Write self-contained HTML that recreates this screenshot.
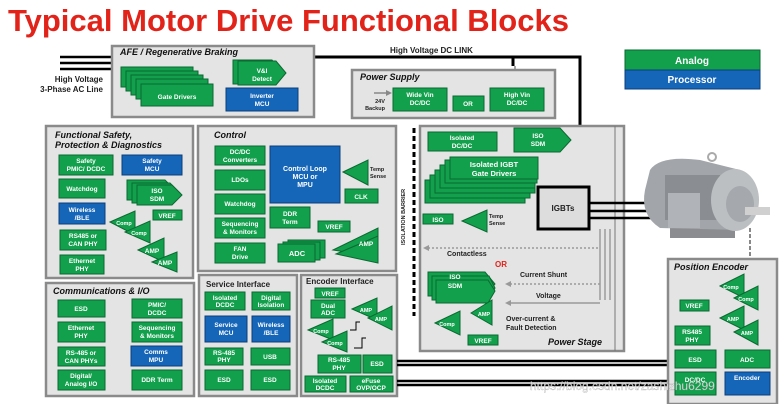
<!DOCTYPE html>
<html><head><meta charset="utf-8"><style>
html,body{margin:0;padding:0;background:#fff;}
svg{display:block;font-family:"Liberation Sans",sans-serif;}
.g{fill:#12a04c;stroke:#0a6a30;stroke-width:1}
.b{fill:#1565b8;stroke:#0b3f7a;stroke-width:1}
.box{fill:#e4e4e4;stroke:#8a8a8a;stroke-width:2.5}
.t{fill:#fff;font-weight:bold;font-size:6.5px;text-anchor:middle}
.h{font-weight:bold;font-style:italic;font-size:9px;fill:#111}
.k{font-weight:bold;font-size:7.5px;fill:#222}
</style></head><body>
<svg width="779" height="404" viewBox="0 0 779 404" xmlns="http://www.w3.org/2000/svg">
<rect width="779" height="404" fill="#fff"/>
<text x="8" y="31" fill="#e2231a" font-size="31" font-weight="bold">Typical Motor Drive Functional Blocks</text>

<!-- legend -->
<rect x="625" y="50" width="135" height="20" class="g"/>
<text x="692" y="64" class="t" style="font-size:10px">Analog</text>
<rect x="625" y="70" width="135" height="19" class="b"/>
<text x="692" y="83" class="t" style="font-size:10px">Processor</text>

<!-- HV lines -->
<g stroke="#000" stroke-width="2.5">
<line x1="60" y1="57" x2="112" y2="57"/><line x1="60" y1="63" x2="112" y2="63"/><line x1="60" y1="69" x2="112" y2="69"/>
</g>
<text x="103" y="82" class="k" style="font-size:8px;text-anchor:end">High Voltage</text>
<text x="103" y="92" class="k" style="font-size:8px;text-anchor:end">3-Phase AC Line</text>
<!-- DC link -->
<polyline points="314,57 580,57 580,188" fill="none" stroke="#000" stroke-width="3"/>
<line x1="513" y1="57" x2="513" y2="66" stroke="#000" stroke-width="3"/>
<line x1="515" y1="66" x2="515" y2="80" stroke="#888" stroke-width="1.5"/>
<polygon points="512,78 518,78 515,84" fill="#888"/>
<text x="390" y="53" class="k" style="font-size:8px">High Voltage DC LINK</text>

<!-- AFE -->
<rect x="112" y="46" width="202" height="71" class="box"/>
<text x="120" y="55" class="h">AFE / Regenerative Braking</text>
<rect x="121" y="67" width="72" height="20" class="g"/>
<rect x="126" y="71" width="72" height="20" class="g"/>
<rect x="131" y="75" width="72" height="20" class="g"/>
<rect x="136" y="79" width="72" height="20" class="g"/>
<rect x="141" y="84" width="72" height="22" class="g"/>
<text x="177" y="99" class="t">Gate Drivers</text>
<polygon points="233,60 272,60 282,72 272,84 233,84" class="g"/>
<polygon points="238,61 276,61 286,73 276,85 238,85" class="g"/>
<text x="262" y="73" class="t">V&amp;I</text><text x="262" y="81" class="t">Detect</text>
<rect x="226" y="88" width="72" height="23" class="b"/>
<text x="262" y="98" class="t">Inverter</text><text x="262" y="106" class="t">MCU</text>

<!-- Power supply -->
<rect x="352" y="70" width="203" height="48" class="box"/>
<text x="360" y="80" class="h">Power Supply</text>
<line x1="374" y1="93" x2="386" y2="93" stroke="#888" stroke-width="1.5"/><polygon points="386,90 392,93 386,96" fill="#888"/>
<text x="380" y="103" class="k" style="font-size:5.5px;text-anchor:middle">24V</text>
<text x="375" y="110" class="k" style="font-size:5.5px;text-anchor:middle">Backup</text>
<rect x="393" y="88" width="54" height="23" class="g"/><text x="420" y="97" class="t">Wide Vin</text><text x="420" y="105" class="t">DC/DC</text>
<rect x="453" y="96" width="31" height="15" class="g"/><text x="468" y="106" class="t">OR</text>
<rect x="490" y="88" width="54" height="23" class="g"/><text x="517" y="97" class="t">High Vin</text><text x="517" y="105" class="t">DC/DC</text>

<!-- Functional Safety -->
<rect x="46" y="126" width="147" height="152" class="box"/>
<text x="55" y="138" class="h">Functional Safety,</text>
<text x="55" y="148" class="h">Protection &amp; Diagnostics</text>
<rect x="59" y="155" width="54" height="20" class="g"/><text x="86" y="163" class="t">Safety</text><text x="86" y="171" class="t">PMIC/ DCDC</text>
<rect x="122" y="155" width="60" height="20" class="b"/><text x="152" y="163" class="t">Safety</text><text x="152" y="171" class="t">MCU</text>
<rect x="59" y="179" width="46" height="19" class="g"/><text x="82" y="191" class="t">Watchdog</text>
<polygon points="127,180 165,180 175,190 165,200 127,200" class="g"/>
<polygon points="132,183 170,183 180,193 170,203 132,203" class="g"/>
<polygon points="137,185 172,185 182,195 172,205 137,205" class="g"/>
<text x="157" y="193" class="t">ISO</text><text x="157" y="201" class="t">SDM</text>
<rect x="59" y="203" width="46" height="21" class="b"/><text x="82" y="212" class="t">Wireless</text><text x="82" y="220" class="t">/BLE</text>
<rect x="153" y="210" width="29" height="10" class="g"/><text x="167" y="218" class="t">VREF</text>
<polygon points="110,222 135,211 135,235" class="g"/><text x="124" y="225" class="t" style="font-size:5.5px">Comp</text>
<polygon points="125,232 150,221 150,243" class="g"/><text x="139" y="235" class="t" style="font-size:5.5px">Comp</text>
<rect x="60" y="230" width="46" height="20" class="g"/><text x="83" y="238" class="t">RS485 or</text><text x="83" y="246" class="t">CAN PHY</text>
<polygon points="138,250 164,238 164,262" class="g"/><text x="152" y="253" class="t">AMP</text>
<polygon points="152,262 177,252 177,272" class="g"/><text x="165" y="265" class="t">AMP</text>
<rect x="60" y="255" width="44" height="19" class="g"/><text x="82" y="263" class="t">Ethernet</text><text x="82" y="271" class="t">PHY</text>

<!-- Control -->
<rect x="198" y="126" width="198" height="145" class="box"/>
<text x="214" y="138" class="h">Control</text>
<rect x="215" y="146" width="50" height="19" class="g"/><text x="240" y="154" class="t">DC/DC</text><text x="240" y="162" class="t">Converters</text>
<rect x="215" y="170" width="50" height="20" class="g"/><text x="240" y="182" class="t">LDOs</text>
<rect x="215" y="194" width="50" height="20" class="g"/><text x="240" y="206" class="t">Watchdog</text>
<rect x="215" y="218" width="50" height="20" class="g"/><text x="240" y="226" class="t">Sequencing</text><text x="240" y="234" class="t">&amp; Monitors</text>
<rect x="215" y="243" width="50" height="20" class="g"/><text x="240" y="251" class="t">FAN</text><text x="240" y="259" class="t">Drive</text>
<rect x="270" y="146" width="70" height="57" class="b"/><text x="305" y="171" class="t" style="font-size:7px">Control Loop</text><text x="305" y="179" class="t" style="font-size:7px">MCU or</text><text x="305" y="187" class="t" style="font-size:7px">MPU</text>
<polygon points="343,172 368,160 368,185" class="g"/>
<text x="370" y="171" class="k" style="font-size:5.5px">Temp</text><text x="370" y="178" class="k" style="font-size:5.5px">Sense</text>
<rect x="345" y="189" width="33" height="14" class="g"/><text x="361" y="199" class="t">CLK</text>
<rect x="270" y="207" width="40" height="21" class="g"/><text x="290" y="216" class="t">DDR</text><text x="290" y="224" class="t">Term</text>
<rect x="318" y="221" width="32" height="11" class="g"/><text x="334" y="229" class="t">VREF</text>
<polygon points="333,250 378,228 378,257" class="g"/><polygon points="336,254 378,236 378,263" class="g"/>
<text x="366" y="246" class="t">AMP</text>
<rect x="288" y="240" width="37" height="18" class="g"/><rect x="283" y="242" width="37" height="18" class="g"/><rect x="278" y="244" width="37" height="18" class="g"/>
<text x="297" y="256" class="t" style="font-size:7.5px">ADC</text>

<!-- Communications -->
<rect x="46" y="283" width="148" height="113" class="box"/>
<text x="53" y="294" class="h">Communications &amp; I/O</text>
<rect x="58" y="300" width="47" height="17" class="g"/><text x="81" y="311" class="t">ESD</text>
<rect x="132" y="299" width="50" height="19" class="g"/><text x="157" y="307" class="t">PMIC/</text><text x="157" y="315" class="t">DCDC</text>
<rect x="58" y="322" width="47" height="20" class="g"/><text x="81" y="330" class="t">Ethernet</text><text x="81" y="338" class="t">PHY</text>
<rect x="132" y="322" width="50" height="20" class="g"/><text x="157" y="330" class="t">Sequencing</text><text x="157" y="338" class="t">&amp; Monitors</text>
<rect x="58" y="347" width="47" height="19" class="g"/><text x="81" y="355" class="t">RS-485 or</text><text x="81" y="363" class="t">CAN PHYs</text>
<rect x="131" y="346" width="51" height="20" class="b"/><text x="156" y="354" class="t">Comms</text><text x="156" y="362" class="t">MPU</text>
<rect x="58" y="370" width="47" height="20" class="g"/><text x="81" y="378" class="t">Digital/</text><text x="81" y="386" class="t">Analog I/O</text>
<rect x="132" y="370" width="50" height="20" class="g"/><text x="157" y="382" class="t">DDR Term</text>

<!-- Service Interface -->
<rect x="199" y="275" width="98" height="121" class="box"/>
<text x="206" y="287" class="k" style="font-size:8px">Service Interface</text>
<rect x="205" y="292" width="40" height="18" class="g"/><text x="225" y="300" class="t">Isolated</text><text x="225" y="307" class="t">DCDC</text>
<rect x="252" y="292" width="38" height="18" class="g"/><text x="271" y="300" class="t">Digital</text><text x="271" y="307" class="t">Isolation</text>
<rect x="205" y="316" width="42" height="26" class="b"/><text x="226" y="327" class="t">Service</text><text x="226" y="335" class="t">MCU</text>
<rect x="252" y="316" width="38" height="26" class="b"/><text x="271" y="327" class="t">Wireless</text><text x="271" y="335" class="t">/BLE</text>
<rect x="205" y="348" width="38" height="17" class="g"/><text x="224" y="355" class="t">RS-485</text><text x="224" y="362" class="t">PHY</text>
<rect x="251" y="348" width="39" height="17" class="g"/><text x="270" y="359" class="t">USB</text>
<rect x="205" y="370" width="38" height="20" class="g"/><text x="224" y="382" class="t">ESD</text>
<rect x="251" y="370" width="39" height="20" class="g"/><text x="270" y="382" class="t">ESD</text>

<!-- Encoder Interface -->
<rect x="301" y="275" width="96" height="121" class="box"/>
<text x="306" y="284" class="k" style="font-size:8px">Encoder Interface</text>
<rect x="315" y="288" width="30" height="10" class="g"/><text x="330" y="296" class="t">VREF</text>
<rect x="311" y="300" width="34" height="18" class="g"/><text x="328" y="308" class="t">Dual</text><text x="328" y="315" class="t">ADC</text>
<polygon points="352,309 377,298 377,320" class="g"/><text x="366" y="312" class="t" style="font-size:5.5px">AMP</text>
<polygon points="368,318 392,306 392,330" class="g"/><text x="381" y="321" class="t" style="font-size:5.5px">AMP</text>
<polygon points="308,330 333,319 333,340" class="g"/><text x="321" y="333" class="t" style="font-size:5.5px">Comp</text>
<polygon points="322,342 347,331 347,352" class="g"/><text x="335" y="345" class="t" style="font-size:5.5px">Comp</text>
<g stroke="#000" stroke-width="1" fill="none"><polyline points="350,330 356,330 356,322 360,322"/><polyline points="354,348 362,348 362,338 366,338"/></g>
<rect x="318" y="355" width="43" height="18" class="g"/><text x="339" y="362" class="t">RS-485</text><text x="339" y="370" class="t">PHY</text>
<rect x="363" y="355" width="29" height="18" class="g"/><text x="377" y="366" class="t">ESD</text>
<rect x="305" y="376" width="41" height="16" class="g"/><text x="325" y="383" class="t">Isolated</text><text x="325" y="390" class="t">DCDC</text>
<rect x="350" y="376" width="43" height="16" class="g"/><text x="371" y="383" class="t">eFuse</text><text x="371" y="390" class="t">OVP/OCP</text>

<!-- encoder link lines -->
<g stroke="#000" stroke-width="2.5"><line x1="397" y1="361" x2="668" y2="361"/><line x1="397" y1="365" x2="668" y2="365"/><line x1="397" y1="381" x2="668" y2="381"/><line x1="397" y1="385" x2="668" y2="385"/></g>

<!-- Power stage -->
<rect x="420" y="126" width="204" height="225" class="box"/>
<line x1="414" y1="128" x2="414" y2="316" stroke="#000" stroke-width="3" stroke-dasharray="5,3"/>
<text x="405" y="245" class="k" style="font-size:5.5px" transform="rotate(-90 405 245)">ISOLATION BARRIER</text>
<g stroke="#777" stroke-width="1"><line x1="600" y1="229" x2="600" y2="300"/><line x1="605" y1="229" x2="605" y2="300"/><line x1="610" y1="229" x2="610" y2="300"/><line x1="615" y1="126" x2="615" y2="351"/></g>
<rect x="428" y="132" width="69" height="19" class="g"/><text x="462" y="140" class="t">Isolated</text><text x="462" y="148" class="t">DC/DC</text>
<polygon points="514,128 560,128 571,140 560,152 514,152" class="g"/><text x="538" y="138" class="t">ISO</text><text x="538" y="146" class="t">SDM</text>
<rect x="425" y="180" width="100" height="23" class="g"/><rect x="430" y="175" width="100" height="23" class="g"/><rect x="435" y="170" width="100" height="23" class="g"/>
<rect x="440" y="165" width="95" height="23" class="g"/><rect x="445" y="160" width="92" height="23" class="g"/><rect x="450" y="157" width="88" height="22" class="g"/>
<text x="494" y="167" class="t" style="font-size:7.5px">Isolated IGBT</text><text x="494" y="176" class="t" style="font-size:7.5px">Gate Drivers</text>
<rect x="423" y="214" width="30" height="10" class="g"/><text x="438" y="222" class="t">ISO</text>
<polygon points="462,221 487,210 487,232" class="g"/>
<text x="489" y="218" class="k" style="font-size:5.5px">Temp</text><text x="489" y="225" class="k" style="font-size:5.5px">Sense</text>
<line x1="428" y1="248" x2="600" y2="248" stroke="#999" stroke-width="1.5" stroke-dasharray="2,2"/><polygon points="429,245 423,248 429,251" fill="#999"/>
<text x="447" y="256" class="k" style="font-size:7px">Contactless</text>
<text x="495" y="267" fill="#e2231a" font-weight="bold" font-size="8">OR</text>
<polygon points="428,272 485,272 495,284 485,296 428,296" class="g"/><polygon points="432,276 489,276 495,288 489,300 432,300" class="g"/><polygon points="436,280 488,280 495,291 488,303 436,303" class="g"/>
<text x="455" y="279" class="t">ISO</text><text x="455" y="288" class="t">SDM</text>
<text x="520" y="277" class="k" style="font-size:7px">Current Shunt</text>
<line x1="510" y1="284" x2="600" y2="284" stroke="#999" stroke-width="1.5" stroke-dasharray="2,2"/><polygon points="511,281 505,284 511,287" fill="#999"/>
<text x="536" y="298" class="k" style="font-size:7px">Voltage</text>
<line x1="510" y1="303" x2="600" y2="303" stroke="#999" stroke-width="1.5"/><polygon points="511,300 505,303 511,306" fill="#999"/>
<text x="506" y="321" class="k" style="font-size:7px">Over-current &amp;</text><text x="506" y="330" class="k" style="font-size:7px">Fault Detection</text>
<polygon points="435,323 460,311 460,335" class="g"/><text x="447" y="326" class="t" style="font-size:5.5px">Comp</text>
<polygon points="471,313 492,300 492,325" class="g"/><text x="484" y="316" class="t" style="font-size:5.5px">AMP</text>
<rect x="468" y="335" width="30" height="10" class="g"/><text x="483" y="343" class="t">VREF</text>
<text x="548" y="345" class="h">Power Stage</text>

<!-- IGBTs -->
<rect x="538" y="187" width="51" height="42" fill="#ddd" stroke="#000" stroke-width="3"/>
<text x="563" y="211" class="k" style="font-size:8px;text-anchor:middle">IGBTs</text>
<g stroke="#000" stroke-width="2.5"><line x1="589" y1="203" x2="650" y2="203"/><line x1="589" y1="211" x2="665" y2="211"/><line x1="589" y1="218" x2="680" y2="218"/></g>

<!-- Motor -->
<line x1="750" y1="228" x2="750" y2="260" stroke="#888" stroke-width="2" stroke-dasharray="4,2"/>
<rect x="670" y="222" width="65" height="16" fill="#8a8c8f"/>
<path d="M650,170 Q660,155 700,160 L740,170 L740,230 L660,228 Q640,215 645,190 Z" fill="#a2a5a9"/>
<rect x="665" y="175" width="55" height="45" fill="#8a8d91"/>
<rect x="668" y="193" width="32" height="35" fill="#b0b3b7"/>
<ellipse cx="735" cy="200" rx="24" ry="31" fill="#bcbfc2"/>
<ellipse cx="740" cy="204" rx="14" ry="18" fill="#a5a8ac"/>
<rect x="745" y="207" width="25" height="8" fill="#d0d0d0"/>
<circle cx="712" cy="157" r="4" fill="none" stroke="#aaa" stroke-width="2"/>

<!-- Position encoder -->
<rect x="668" y="259" width="109" height="145" class="box"/>
<text x="674" y="270" class="h">Position Encoder</text>
<polygon points="720,286 744,274 744,298" class="g"/><text x="731" y="289" class="t" style="font-size:5.5px">Comp</text>
<polygon points="734,298 758,286 758,310" class="g"/><text x="746" y="301" class="t" style="font-size:5.5px">Comp</text>
<rect x="680" y="300" width="29" height="11" class="g"/><text x="694" y="308" class="t">VREF</text>
<polygon points="720,318 744,306 744,330" class="g"/><text x="733" y="321" class="t" style="font-size:5.5px">AMP</text>
<polygon points="734,332 758,320 758,345" class="g"/><text x="747" y="335" class="t" style="font-size:5.5px">AMP</text>
<rect x="675" y="326" width="35" height="19" class="g"/><text x="692" y="334" class="t">RS485</text><text x="692" y="342" class="t">PHY</text>
<rect x="675" y="350" width="41" height="18" class="g"/><text x="695" y="362" class="t">ESD</text>
<rect x="725" y="350" width="45" height="18" class="g"/><text x="747" y="362" class="t">ADC</text>
<rect x="675" y="372" width="41" height="23" class="g"/><text x="695" y="382" class="t">DC/DC</text>
<rect x="725" y="372" width="45" height="23" class="b"/><text x="747" y="380" class="t">Encoder</text>

<text x="530" y="390" fill="#fff" fill-opacity="0.8" stroke="#999" stroke-width="0.3" font-size="12">https://blog.csdn.net/zashizhu6299</text>
</svg>
</body></html>
